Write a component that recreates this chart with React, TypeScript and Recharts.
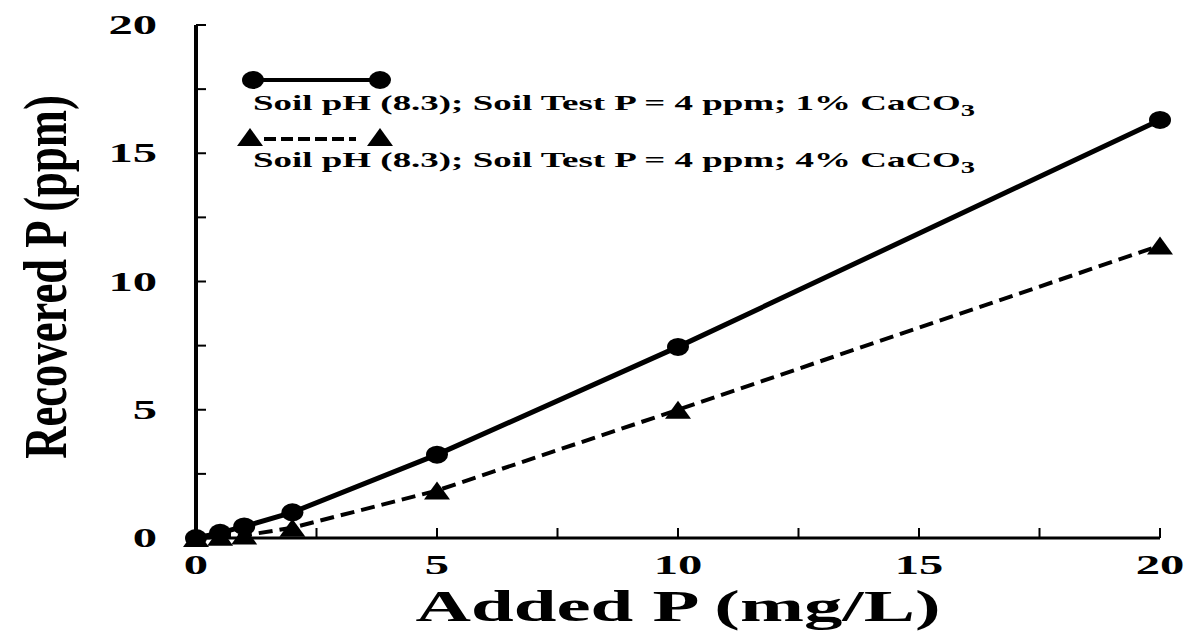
import { LineChart, Line, XAxis, YAxis } from "recharts";

const addedP = [0, 0.5, 1, 2, 5, 10, 20];
const recovered1pct = [0, 0.2, 0.45, 1.0, 3.25, 7.45, 16.3];
const recovered4pct = [0, 0.05, 0.1, 0.4, 1.85, 5.0, 11.4];
const axisTicks = [0, 2.5, 5, 7.5, 10, 12.5, 15, 17.5, 20];
const legendLabels = [
  "Soil pH (8.3); Soil Test P = 4 ppm; 1% CaCO",
  "Soil pH (8.3); Soil Test P = 4 ppm; 4% CaCO",
];

const data = addedP.map((x, i) => ({
  x,
  low: recovered1pct[i],
  high: recovered4pct[i],
}));

const FONT = "'Liberation Serif', 'Times New Roman', serif";

const circleDot = (p: any) => (
  <ellipse key={`c${p.index}`} cx={p.cx} cy={p.cy} rx={11} ry={9} fill="#000" />
);

const triangleDot = (p: any) => (
  <polygon
    key={`t${p.index}`}
    points={`${p.cx - 13},${p.cy + 9} ${p.cx + 13},${p.cy + 9} ${p.cx},${p.cy - 9}`}
    fill="#000"
  />
);

const isMajor = (v: number) => v % 5 === 0;

const YTick = (p: any) => {
  const v = p.payload.value;
  return (
    <g>
      <line x1={p.x} x2={p.x + 10} y1={p.y} y2={p.y} stroke="#000" strokeWidth={2} />
      {isMajor(v) && (
        <g transform={`translate(${p.x - 39},${p.y + 9}) scale(1.8,1)`}>
          <text textAnchor="end" fontFamily={FONT} fontWeight="bold" fontSize={27} fill="#000">
            {v}
          </text>
        </g>
      )}
    </g>
  );
};

const XTick = (p: any) => {
  const v = p.payload.value;
  return (
    <g>
      <line x1={p.x} x2={p.x} y1={p.y} y2={p.y - 10} stroke="#000" strokeWidth={2} />
      {isMajor(v) && (
        <g transform={`translate(${p.x},${p.y + 36}) scale(1.8,1)`}>
          <text textAnchor="middle" fontFamily={FONT} fontWeight="bold" fontSize={27} fill="#000">
            {v}
          </text>
        </g>
      )}
    </g>
  );
};

// legend drawn as an overlay so it does not take space from the plot
const ChartLegend = () => (
  <svg
    width={780}
    height={120}
    style={{ position: "absolute", left: 230, top: 60, overflow: "visible" }}
  >
    <line x1={23} x2={150} y1={20} y2={20} stroke="#000" strokeWidth={4} />
    <ellipse cx={23} cy={20} rx={11} ry={9} fill="#000" />
    <ellipse cx={150} cy={20} rx={11} ry={9} fill="#000" />
    <g transform="translate(23,50) scale(1.68,1)">
      <text fontFamily={FONT} fontWeight="bold" fontSize={22} fill="#000">
        <tspan>{legendLabels[0]}</tspan>
        <tspan dy={6} fontSize={17}>3</tspan>
      </text>
    </g>
    <line x1={34} x2={126} y1={79} y2={79} stroke="#000" strokeWidth={4} strokeDasharray="12 5" />
    <polygon points="7,86 33,86 20,68" fill="#000" />
    <polygon points="137,86 163,86 150,68" fill="#000" />
    <g transform="translate(23,107) scale(1.68,1)">
      <text fontFamily={FONT} fontWeight="bold" fontSize={22} fill="#000">
        <tspan>{legendLabels[1]}</tspan>
        <tspan dy={6} fontSize={17}>3</tspan>
      </text>
    </g>
  </svg>
);

export default function App() {
  return (
    <div style={{ position: "absolute", left: 0, top: 0, width: 1191, height: 635, background: "#fff" }}>
      <LineChart
        width={1191}
        height={635}
        data={data}
        margin={{ top: 25, right: 31, bottom: 37, left: 96 }}
      >
        <XAxis
          dataKey="x"
          type="number"
          domain={[0, 20]}
          ticks={axisTicks}
          interval={0}
          height={60}
          tickSize={0}
          tickMargin={0}
          tickLine={false}
          tick={<XTick />}
          axisLine={{ stroke: "#000", strokeWidth: 3 }}
          label={() => (
            <text
              x={678}
              y={621}
              textAnchor="middle"
              fontFamily={FONT}
              fontWeight="bold"
              fontSize={45}
              textLength={525}
              lengthAdjust="spacingAndGlyphs"
              fill="#000"
            >
              Added P (mg/L)
            </text>
          )}
        />
        <YAxis
          type="number"
          domain={[0, 20]}
          ticks={axisTicks}
          interval={0}
          width={100}
          tickSize={0}
          tickMargin={0}
          tickLine={false}
          tick={<YTick />}
          axisLine={{ stroke: "#000", strokeWidth: 4 }}
          label={() => (
            <g transform="translate(66,277) rotate(-90) scale(0.72,1)">
              <text
                textAnchor="middle"
                fontFamily={FONT}
                fontWeight="bold"
                fontSize={62}
                fill="#000"
              >
                Recovered P (ppm)
              </text>
            </g>
          )}
        />
        <Line
          dataKey="low"
          stroke="#000"
          strokeWidth={5}
          dot={circleDot}
          activeDot={false}
          isAnimationActive={false}
        />
        <Line
          dataKey="high"
          stroke="#000"
          strokeWidth={4}
          strokeDasharray="14 7"
          dot={triangleDot}
          activeDot={false}
          isAnimationActive={false}
        />
      </LineChart>
      <ChartLegend />
    </div>
  );
}
